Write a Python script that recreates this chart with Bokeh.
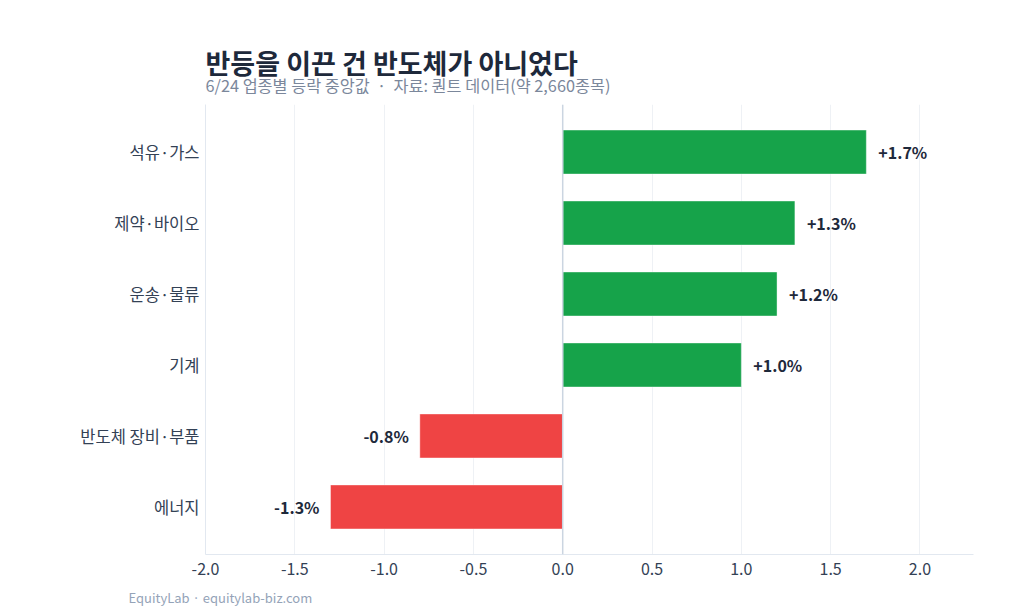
from bokeh.plotting import figure
from bokeh.models import (ColumnDataSource, FactorRange, Range1d, Title, Span,
                          FixedTicker, NumeralTickFormatter)
from bokeh.core.properties import value
from bokeh.embed import file_html
from bokeh.resources import INLINE

FONT = "Noto Sans CJK KR"

# 6/24 sector median change (%)
sectors = ["석유·가스", "제약·바이오", "운송·물류", "기계", "반도체 장비·부품", "에너지"]
changes = [1.7, 1.3, 1.2, 1.0, -0.8, -1.3]
x_ticks = [-2.0, -1.5, -1.0, -0.5, 0.0, 0.5, 1.0, 1.5, 2.0]

colors = ["#16a34a" if v >= 0 else "#ef4444" for v in changes]
labels = [("+%.1f%%" % v) if v >= 0 else ("%.1f%%" % v) for v in changes]

src = ColumnDataSource(dict(sector=sectors, change=changes, color=colors, label=labels))
pos = ColumnDataSource(dict(
    sector=[s for s, v in zip(sectors, changes) if v >= 0],
    change=[v for v in changes if v >= 0],
    label=[l for l, v in zip(labels, changes) if v >= 0]))
neg = ColumnDataSource(dict(
    sector=[s for s, v in zip(sectors, changes) if v < 0],
    change=[v for v in changes if v < 0],
    label=[l for l, v in zip(labels, changes) if v < 0]))

p = figure(title=None, width=1008, height=616,
           y_range=FactorRange(factors=sectors[::-1], range_padding=0.17,
                               range_padding_units="absolute"),
           x_range=Range1d(-2.0, 2.3),
           min_border_left=205, min_border_right=35, min_border_top=104,
           min_border_bottom=62,
           output_backend="svg", toolbar_location=None)

p.hbar(y="sector", right="change", left=0, height=0.62, color="color",
       line_color="white", line_alpha=0.4, source=src)

p.text(x="change", y="sector", text="label", source=pos, x_offset=12,
       text_align="left", text_baseline="middle", text_font=value(FONT),
       text_font_style="bold", text_font_size="16px", text_color="#1e293b")
p.text(x="change", y="sector", text="label", source=neg, x_offset=-11,
       text_align="right", text_baseline="middle", text_font=value(FONT),
       text_font_style="bold", text_font_size="16px", text_color="#1e293b")

p.add_layout(Span(location=0, dimension="height", line_color="#cbd5e1", line_width=1.5))

p.xaxis.ticker = FixedTicker(ticks=x_ticks)
p.xaxis.formatter = NumeralTickFormatter(format="0.0")
p.xaxis.major_tick_line_color = None
p.xaxis.minor_tick_line_color = None
p.xaxis.axis_line_color = "#e2e8f0"
p.xaxis.major_label_text_font = FONT
p.xaxis.major_label_text_font_size = "16px"
p.xaxis.major_label_text_color = "#334155"
p.xaxis.major_label_standoff = 2

p.yaxis.major_tick_line_color = None
p.yaxis.minor_tick_line_color = None
p.yaxis.axis_line_color = "#e2e8f0"
p.yaxis.major_label_text_font = FONT
p.yaxis.major_label_text_font_size = "16.5px"
p.yaxis.major_label_text_color = "#334155"
p.yaxis.major_label_standoff = 0

p.xgrid.grid_line_color = "#eef1f5"
p.ygrid.grid_line_color = None
p.outline_line_color = None

p.add_layout(Title(text="6/24 업종별 등락 중앙값 \u00a0·\u00a0 자료: 퀀트 데이터(약 2,660종목)",
                   text_font=FONT, text_font_size="16.3px", text_font_style="normal",
                   text_color="#7b879b", align="left", standoff=15), "above")
p.add_layout(Title(text="반등을 이끈 건 반도체가 아니었다", text_font=FONT,
                   text_font_size="27px", text_font_style="bold",
                   text_color="#1e293b", align="left", standoff=-37), "above")
p.add_layout(Title(text="EquityLab · equitylab-biz.com", text_font=FONT,
                   text_font_size="13px", text_font_style="normal",
                   text_color="#94a3b8", align="left", offset=-77, standoff=16), "below")

open("out.html", "w").write(file_html(p, INLINE))
